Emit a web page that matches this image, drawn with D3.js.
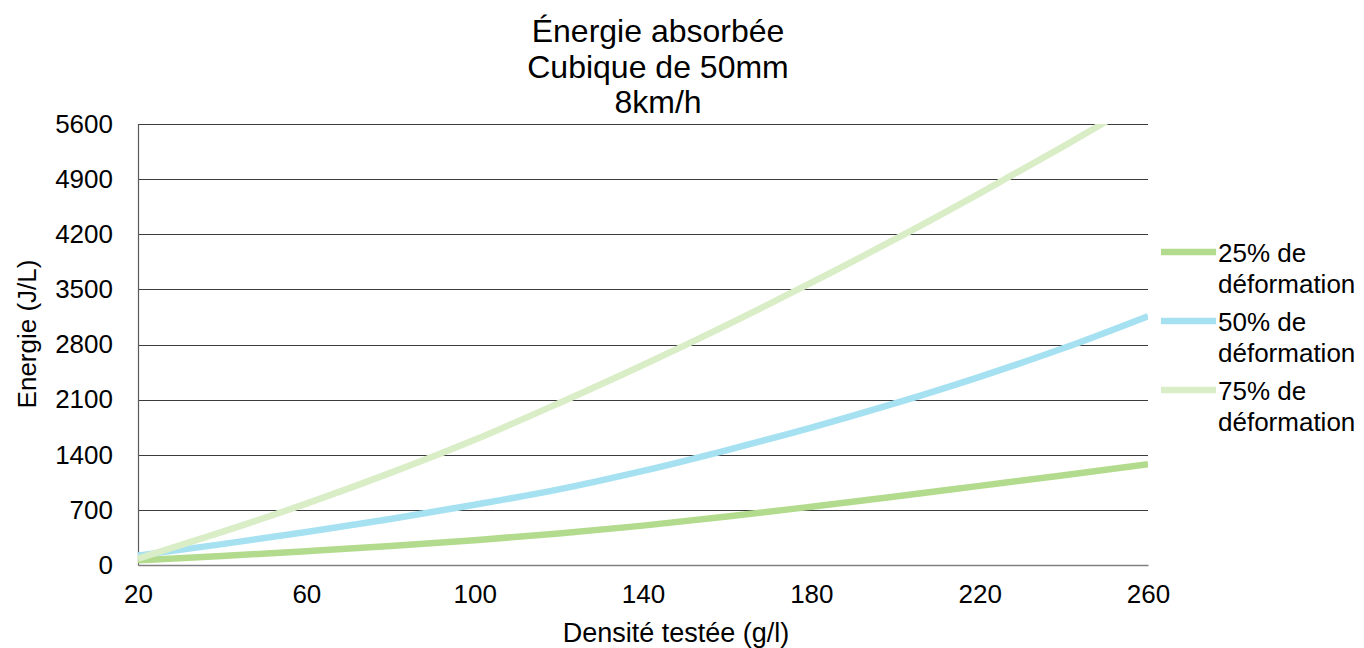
<!DOCTYPE html>
<html>
<head>
<meta charset="utf-8">
<script src="https://cdn.jsdelivr.net/npm/d3@7"></script>
<style>
  body { margin: 0; background: #fff; }
  text { font-family: "Liberation Sans", Arial, sans-serif; fill: #000; }
</style>
</head>
<body>
<div id="chart-area"></div>
<script>
// density values (g/l) where the curves were read
const densities = [20, 40, 60, 80, 100, 120, 140, 160, 180, 200, 220, 240, 260];
// energy (J/L) for each deformation level
const def25 = [60, 115, 175, 240, 315, 400, 500, 615, 740, 870, 1005, 1140, 1280];
const def50 = [120, 265, 420, 585, 765, 960, 1195, 1460, 1745, 2055, 2390, 2755, 3160];
const def75 = [80, 420, 780, 1170, 1590, 2055, 2540, 3050, 3585, 4140, 4720, 5320, 5940];

const seriesNames = ['25% de|déformation', '50% de|déformation', '75% de|déformation'];
const seriesColors = ['#b3db8e', '#a6e1f1', '#d9edc6'];
const xTicks = [20, 60, 100, 140, 180, 220, 260];
const yTicks = [0, 700, 1400, 2100, 2800, 3500, 4200, 4900, 5600];
const titleLines = ['Énergie absorbée', 'Cubique de 50mm', '8km/h'];

let margin = { left: 138, right: 216, top: 124, bottom: 83 };
let width = 1364 - margin.left - margin.right;
let height = 648 - margin.top - margin.bottom;

const svg = d3.select('#chart-area').append('svg')
	.attr('width', 1364)
	.attr('height', 648);

let g = svg.append('g')
	.attr('transform', 'translate(' + margin.left + ', ' + margin.top + ')');

let x = d3.scaleLinear()
	.domain([20, 260])
	.range([0, width]);

let y = d3.scaleLinear()
	.domain([0, 5600])
	.range([height, 0]);

// horizontal gridlines
g.append('g')
	.selectAll('line')
	.data(yTicks.filter(d => d > 0))
	.enter()
	.append('line')
		.attr('x1', 0)
		.attr('x2', width)
		.attr('y1', d => Math.round(y(d)) + 0.5)
		.attr('y2', d => Math.round(y(d)) + 0.5)
		.attr('stroke', '#3c3c3c')
		.attr('stroke-width', 1.2);

// y axis
let yAxisCall = d3.axisLeft(y)
	.tickValues(yTicks)
	.tickFormat(d3.format('d'))
	.tickSize(0)
	.tickPadding(25);
let yAxis = g.append('g')
	.attr('class', 'y-axis')
	.call(yAxisCall);
yAxis.select('.domain').attr('stroke', '#5a5a5a').attr('stroke-width', 1.2);
yAxis.selectAll('text')
	.attr('font-size', '26px')
	.attr('font-family', '"Liberation Sans", Arial, sans-serif')
	.attr('fill', '#000');

// x axis
let xAxisCall = d3.axisBottom(x)
	.tickValues(xTicks)
	.tickSize(0)
	.tickPadding(20);
let xAxis = g.append('g')
	.attr('class', 'x-axis')
	.attr('transform', 'translate(0, ' + height + ')')
	.call(xAxisCall);
xAxis.select('.domain').attr('stroke', '#808080').attr('stroke-width', 1.5);
xAxis.selectAll('text')
	.attr('font-size', '26px')
	.attr('font-family', '"Liberation Sans", Arial, sans-serif')
	.attr('fill', '#000');

// clip so the 75% curve stops at the top of the plot
svg.append('defs').append('clipPath')
	.attr('id', 'plot-clip')
	.append('rect')
		.attr('x', -5)
		.attr('y', 0)
		.attr('width', width + 5)
		.attr('height', height + 10);

let series = [def25, def50, def75];
let line = d3.line()
	.x((d, i) => x(densities[i]))
	.y(d => y(d))
	.curve(d3.curveMonotoneX);

g.append('g')
	.attr('clip-path', 'url(#plot-clip)')
	.selectAll('path')
	.data(series)
	.enter()
	.append('path')
		.attr('d', d => line(d))
		.attr('fill', 'none')
		.attr('stroke', (d, i) => seriesColors[i])
		.attr('stroke-width', 6.5)
		.attr('stroke-linecap', 'butt');

// title
svg.append('g')
	.selectAll('text')
	.data(titleLines)
	.enter()
	.append('text')
		.attr('x', 658)
		.attr('y', (d, i) => 42 + i * 35.5)
		.attr('font-size', '32px')
		.attr('text-anchor', 'middle')
		.text(d => d);

// axis labels
svg.append('text')
	.attr('x', 676)
	.attr('y', 642)
	.attr('font-size', '27px')
	.attr('text-anchor', 'middle')
	.text('Densité testée (g/l)');

svg.append('text')
	.attr('x', -334)
	.attr('y', 36)
	.attr('font-size', '26px')
	.attr('text-anchor', 'middle')
	.attr('transform', 'rotate(-90)')
	.text('Energie (J/L)');

// legend
let legend = svg.append('g')
	.selectAll('g')
	.data(seriesNames)
	.enter()
	.append('g')
		.attr('transform', (d, i) => 'translate(1161, ' + (252 + i * 69) + ')');

legend.append('line')
	.attr('x1', 0)
	.attr('x2', 55)
	.attr('y1', 0)
	.attr('y2', 0)
	.attr('stroke', (d, i) => seriesColors[i])
	.attr('stroke-width', 6.5);

legend.append('text')
	.attr('x', 57)
	.attr('y', 10)
	.attr('font-size', '26px')
	.text(d => d.split('|')[0]);

legend.append('text')
	.attr('x', 57)
	.attr('y', 41)
	.attr('font-size', '26px')
	.text(d => d.split('|')[1]);
</script>
</body>
</html>
